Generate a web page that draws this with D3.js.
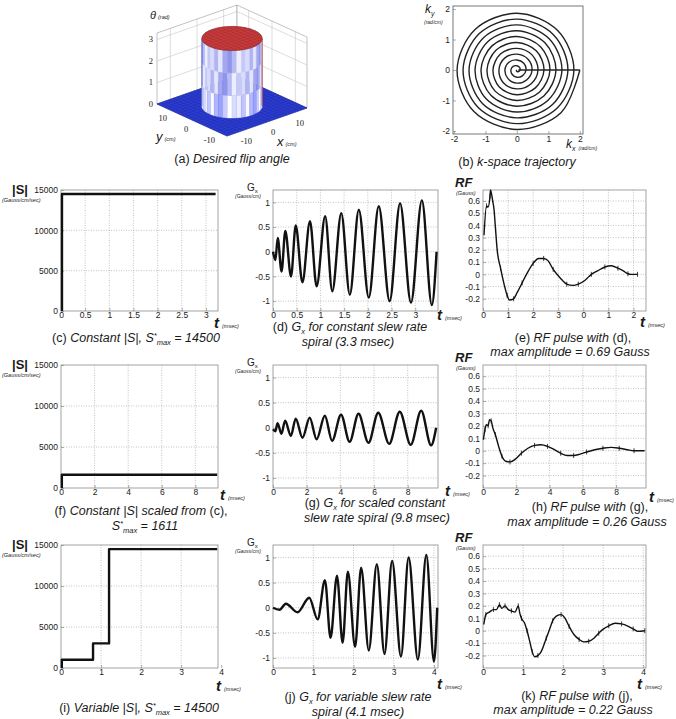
<!DOCTYPE html>
<html>
<head>
<meta charset="utf-8">
<script src="https://cdn.jsdelivr.net/npm/d3@7/dist/d3.min.js"></script>
<style>
  body { margin: 0; background: #fff; }
  svg text { font-family: "Liberation Sans", Arial, sans-serif; fill: #1a1a1a; }
</style>
</head>
<body>
<svg id="fig" width="676" height="719"></svg>
<script>
// ---------- (a) desired flip angle ----------
const planeHalf = 15;          // cm
const flipRadius = 8.5;        // cm
const flipAngle = 3.14;        // rad
const zTicks3d = [0, 1, 2, 3];
const xyTicks3d = [-10, 0, 10];

// ---------- (b) k-space spiral: radius every 45 deg, starting at 180 deg ----------
const spiralRadii = [
  0.00, 0.02, 0.05, 0.07, 0.10, 0.12, 0.14, 0.17,
  0.19, 0.21, 0.24, 0.26, 0.29, 0.31, 0.33, 0.36,
  0.38, 0.40, 0.43, 0.45, 0.48, 0.50, 0.52, 0.55,
  0.57, 0.60, 0.62, 0.64, 0.67, 0.69, 0.71, 0.74,
  0.76, 0.79, 0.81, 0.83, 0.86, 0.88, 0.90, 0.93,
  0.95, 0.98, 1.00, 1.02, 1.05, 1.07, 1.10, 1.12,
  1.14, 1.17, 1.19, 1.21, 1.24, 1.26, 1.29, 1.31,
  1.33, 1.36, 1.38, 1.40, 1.43, 1.45, 1.48, 1.50,
  1.52, 1.55, 1.57, 1.60, 1.62, 1.64, 1.67, 1.69,
  1.71, 1.74, 1.76, 1.79, 1.81, 1.83, 1.86, 1.88,
  1.90, 1.93, 1.95, 1.98, 2.00
];
const kReturn = [[2.0, 0], [0.05, 0]];
const kTicks = [-2, -1, 0, 1, 2];

// ---------- slew rate |S| (Gauss/cm/sec) ----------
const slewC = [[0.02, 0], [0.02, 14500], [3.2, 14500]];
const slewF = [[0.05, 0], [0.05, 1611], [9.3, 1611]];
const slewI = [[0.02, 0], [0.02, 1000], [0.8, 1000], [0.8, 3000], [1.2, 3000], [1.2, 14500], [3.9, 14500]];
const sTicks = [0, 5000, 10000, 15000];

// ---------- Gx (Gauss/cm), extrema ----------
const gxD = [[0, 0], [0.05, -0.17], [0.10, 0.28], [0.18, -0.4], [0.26, 0.42], [0.38, -0.5], [0.48, 0.53],
  [0.62, -0.62], [0.78, 0.62], [0.92, -0.7], [1.10, 0.72], [1.25, -0.8], [1.44, 0.78], [1.62, -0.87],
  [1.81, 0.85], [2.02, -0.93], [2.23, 0.92], [2.46, -1.0], [2.68, 0.98], [2.91, -1.03], [3.14, 1.04],
  [3.35, -1.08], [3.45, 0]];
const gxG = [[0, -0.03], [0.14, -0.07], [0.27, 0.09], [0.5, -0.12], [0.72, 0.14], [1.06, -0.16], [1.35, 0.18],
  [1.75, -0.2], [2.18, 0.2], [2.59, -0.23], [3.08, 0.24], [3.51, -0.26], [4.04, 0.26], [4.55, -0.28],
  [5.08, 0.28], [5.67, -0.3], [6.25, 0.3], [6.9, -0.32], [7.53, 0.32], [8.18, -0.34], [8.8, 0.34],
  [9.39, -0.35], [9.69, 0]];
const gxJ = [[0, 0], [0.16, -0.04], [0.32, 0.08], [0.61, -0.09], [0.9, 0.2], [1.11, -0.23], [1.29, 0.55],
  [1.43, -0.6], [1.59, 0.64], [1.73, -0.7], [1.86, 0.72], [2.04, -0.78], [2.19, 0.8], [2.38, -0.85],
  [2.58, 0.87], [2.77, -0.92], [2.96, 0.93], [3.18, -0.97], [3.37, 1.0], [3.6, -1.03], [3.81, 1.05],
  [4.0, -1.07], [4.08, 0]];
const gxTicks = [-1, -0.5, 0, 0.5, 1];

// ---------- RF pulses (Gauss) ----------
const rfE = [[0.02, 0.32], [0.07, 0.56], [0.10, 0.55], [0.14, 0.64], [0.15, 0.69], [0.19, 0.61], [0.22, 0.53],
  [0.25, 0.37], [0.28, 0.21], [0.35, 0.05], [0.42, -0.08], [0.48, -0.17], [0.53, -0.21], [0.61, -0.2],
  [0.68, -0.15], [0.78, -0.07], [0.88, 0.01], [1.0, 0.09], [1.11, 0.13], [1.21, 0.13], [1.3, 0.11],
  [1.4, 0.04], [1.54, -0.03], [1.67, -0.08], [1.79, -0.09], [1.9, -0.08], [2.03, -0.05], [2.16, 0],
  [2.29, 0.03], [2.43, 0.06], [2.56, 0.07], [2.69, 0.05], [2.79, 0.03], [2.89, 0.005], [2.95, 0], [3.08, 0]];
const rfH = [[0.02, 0.09], [0.12, 0.17], [0.2, 0.21], [0.31, 0.2], [0.39, 0.25], [0.49, 0.24], [0.6, 0.18],
  [0.74, 0.13], [0.94, 0.035], [1.14, -0.045], [1.37, -0.085], [1.62, -0.09], [1.92, -0.07], [2.31, -0.02],
  [2.7, 0.02], [3.1, 0.043], [3.49, 0.048], [3.88, 0.035], [4.27, 0.01], [4.67, -0.02], [5.06, -0.038],
  [5.45, -0.038], [5.84, -0.027], [6.23, -0.01], [6.72, 0.008], [7.21, 0.02], [7.7, 0.027], [8.19, 0.02],
  [8.68, 0.008], [9.08, 0], [9.72, 0]];
const rfK = [[0.02, 0.05], [0.07, 0.13], [0.16, 0.15], [0.26, 0.17], [0.34, 0.17], [0.41, 0.21], [0.47, 0.18],
  [0.55, 0.2], [0.63, 0.17], [0.71, 0.16], [0.8, 0.15], [0.88, 0.2], [0.92, 0.14], [0.96, 0.1], [1.04, 0.06],
  [1.1, 0], [1.17, -0.09], [1.23, -0.17], [1.29, -0.21], [1.37, -0.2], [1.45, -0.17], [1.58, -0.06],
  [1.66, 0.01], [1.74, 0.08], [1.84, 0.12], [1.95, 0.13], [2.05, 0.1], [2.15, 0.035], [2.27, -0.03],
  [2.4, -0.07], [2.52, -0.09], [2.64, -0.085], [2.77, -0.06], [2.89, -0.02], [3.01, 0.015], [3.14, 0.04],
  [3.3, 0.06], [3.46, 0.055], [3.63, 0.035], [3.75, 0.015], [3.87, -0.005], [4.04, 0]];
const rfTicks = [-0.2, -0.1, 0, 0.1, 0.2, 0.3, 0.4, 0.5, 0.6];

// time ticks
const tTicks33 = [0, 0.5, 1, 1.5, 2, 2.5, 3];
const tTicks98 = [0, 2, 4, 6, 8];
const tTicks41 = [0, 1, 2, 3, 4];
const tLabelsE = ["0", "1", "2", "3", "0", "1", "2"];

const svg = d3.select("#fig");
svg.append("rect").attr("width", 676).attr("height", 719).attr("fill", "#fff");

// ---------- helpers ----------
function caption(cx, cy, parts) {
  const t = svg.append("text").attr("x", cx).attr("y", cy)
    .attr("text-anchor", "middle").style("font-size", "12.5px");
  let shift = 0;
  parts.forEach(([str, kind]) => {
    const target = kind === "sub" ? 2.5 : kind === "sup" ? -4 : 0;
    t.append("tspan").attr("dy", target - shift).text(str)
      .style("font-style", kind === "up" ? "normal" : "italic")
      .style("font-size", kind === "sub" || kind === "sup" ? "7.5px" : null);
    shift = target;
  });
}

function tLabel(x, y) {
  const t = svg.append("text").attr("x", x).attr("y", y);
  t.append("tspan").text("t").style("font-size", "15px").style("font-weight", "bold").style("font-style", "italic");
  t.append("tspan").attr("dx", 3).text("(msec)").style("font-size", "5.5px").style("font-style", "italic");
}

function yLabel(kind, left, top) {
  if (kind === "S") {
    svg.append("text").attr("x", 12).attr("y", top + 4).text("|S|")
      .style("font-size", "13px").style("font-weight", "bold");
    svg.append("text").attr("x", 2).attr("y", top + 12).text("(Gauss/cm/sec)")
      .style("font-size", "5.5px").style("font-style", "italic");
  } else if (kind === "G") {
    const t = svg.append("text").attr("x", left - 26).attr("y", top + 1).style("font-size", "10px");
    t.append("tspan").text("G");
    t.append("tspan").attr("dy", 2).style("font-size", "6px").text("x");
    svg.append("text").attr("x", left - 38).attr("y", top + 8).text("(Gauss/cm)")
      .style("font-size", "5px").style("font-style", "italic");
  } else {
    svg.append("text").attr("x", 455).attr("y", top - 3).text("RF")
      .style("font-size", "13px").style("font-weight", "bold").style("font-style", "italic");
    svg.append("text").attr("x", 456).attr("y", top + 5).text("(Gauss)")
      .style("font-size", "5.5px").style("font-style", "italic");
  }
}

function styleAxis(ax) {
  ax.select(".domain").remove();
  ax.attr("font-family", "'Liberation Serif', 'Times New Roman', serif").attr("font-size", 8.5);
  ax.selectAll(".tick line").attr("stroke", "#777").attr("stroke-width", 0.6);
  ax.selectAll(".tick text").attr("fill", "#333");
}

function drawPanel(p) {
  const x = d3.scaleLinear().domain(p.xDomain).range([p.left, p.right]);
  const y = d3.scaleLinear().domain(p.yDomain).range([p.bottom, p.top]);
  const g = svg.append("g");

  // dotted grid
  g.selectAll(null).data(p.xTicks.filter(d => x(d) > p.left + 1 && x(d) < p.right - 1))
    .enter().append("line")
    .attr("x1", d => x(d)).attr("x2", d => x(d)).attr("y1", p.top).attr("y2", p.bottom)
    .attr("stroke", "#9a9a9a").attr("stroke-width", 0.6).attr("stroke-dasharray", "1,1.5");
  g.selectAll(null).data(p.yTicks.filter(d => y(d) < p.bottom - 1 && y(d) > p.top + 1))
    .enter().append("line")
    .attr("x1", p.left).attr("x2", p.right).attr("y1", d => y(d)).attr("y2", d => y(d))
    .attr("stroke", "#9a9a9a").attr("stroke-width", 0.6).attr("stroke-dasharray", "1,1.5");

  const ax = g.append("g").attr("transform", `translate(0,${p.bottom})`)
    .call(d3.axisBottom(x).tickValues(p.xTicks)
      .tickFormat((d, i) => p.xLabels ? p.xLabels[i] : String(d))
      .tickSizeInner(-3).tickSizeOuter(0).tickPadding(1));
  styleAxis(ax);
  const ay = g.append("g").attr("transform", `translate(${p.left},0)`)
    .call(d3.axisLeft(y).tickValues(p.yTicks).tickFormat(d => String(d))
      .tickSizeInner(-3).tickSizeOuter(0).tickPadding(3));
  styleAxis(ay);

  g.append("rect").attr("x", p.left).attr("y", p.top)
    .attr("width", p.right - p.left).attr("height", p.bottom - p.top)
    .attr("fill", "none").attr("stroke", "#8c8c8c").attr("stroke-width", 0.8);

  const line = d3.line().x(d => x(d[0])).y(d => y(d[1])).curve(p.curve);
  g.append("path").datum(p.data).attr("d", line)
    .attr("fill", "none").attr("stroke", "#111").attr("stroke-width", p.width)
    .attr("stroke-linejoin", "round");

  if (p.kind === "RF") {
    g.selectAll(null).data(p.data.filter((d, i) => i % 2 === 1)).enter().append("line")
      .attr("x1", d => x(d[0])).attr("x2", d => x(d[0]))
      .attr("y1", d => y(d[1]) - 2.5).attr("y2", d => y(d[1]) + 2.5)
      .attr("stroke", "#111").attr("stroke-width", 0.8);
  }

  yLabel(p.kind, p.left, p.top);
  tLabel(p.tPos[0], p.tPos[1]);
  p.caption.forEach((c, i) => caption(p.capX[i], p.capY[i], c));
}

// ---------- 3x3 grid of 2D plots ----------
const col = [{ left: 61, right: 218 }, { left: 273, right: 438 }, { left: 483, right: 646 }];
const row = [{ top: 190, bottom: 311 }, { top: 365, bottom: 488 }, { top: 545, bottom: 668 }];
const sDom = [0, 15000], gDom = [-1.2, 1.25], rDom = [-0.3, 0.69];

const panels = [
  { c: 0, r: 0, kind: "S", data: slewC, xDomain: [0, 3.25], yDomain: sDom, xTicks: tTicks33, yTicks: sTicks,
    curve: d3.curveLinear, width: 2.4, tPos: [214, 328],
    caption: [[["(c) ", "up"], ["Constant |S|, S", "it"], ["*", "sup"], ["max", "sub"], [" = 14500", "it"]]],
    capX: [136], capY: [342] },
  { c: 1, r: 0, kind: "G", data: gxD, xDomain: [0, 3.48], yDomain: gDom, xTicks: tTicks33, yTicks: gxTicks,
    curve: d3.curveMonotoneX, width: 2.4, tPos: [437, 320],
    caption: [[["(d) ", "up"], ["G", "it"], ["x", "sub"], [" for constant slew rate", "it"]], [["spiral (3.3 msec)", "it"]]],
    capX: [350, 348], capY: [331, 346] },
  { c: 2, r: 0, kind: "RF", data: rfE, xDomain: [0, 3.25], yDomain: rDom, xTicks: tTicks33, yTicks: rfTicks,
    xLabels: tLabelsE, curve: d3.curveMonotoneX, width: 1.4, tPos: [640, 327],
    caption: [[["(e) ", "up"], ["RF pulse with ", "it"], ["(d),", "up"]], [["max amplitude = 0.69 Gauss", "it"]]],
    capX: [573, 570], capY: [342, 356] },
  { c: 0, r: 1, kind: "S", data: slewF, xDomain: [0, 9.35], yDomain: sDom, xTicks: tTicks98, yTicks: sTicks,
    curve: d3.curveLinear, width: 2.4, tPos: [220, 500],
    caption: [[["(f) ", "up"], ["Constant |S| scaled from ", "it"], ["(c),", "up"]], [["S", "it"], ["*", "sup"], ["max", "sub"], [" = 1611", "it"]]],
    capX: [141, 145], capY: [515, 530] },
  { c: 1, r: 1, kind: "G", data: gxG, xDomain: [0, 9.8], yDomain: gDom, xTicks: tTicks98, yTicks: gxTicks,
    curve: d3.curveMonotoneX, width: 2.4, tPos: [445, 496],
    caption: [[["(g) ", "up"], ["G", "it"], ["x", "sub"], [" for scaled constant", "it"]], [["slew rate spiral (9.8 msec)", "it"]]],
    capX: [375, 377], capY: [507, 522] },
  { c: 2, r: 1, kind: "RF", data: rfH, xDomain: [0, 9.8], yDomain: rDom, xTicks: tTicks98, yTicks: rfTicks,
    curve: d3.curveMonotoneX, width: 1.4, tPos: [649, 502],
    caption: [[["(h) ", "up"], ["RF pulse with ", "it"], ["(g),", "up"]], [["max amplitude = 0.26 Gauss", "it"]]],
    capX: [590, 587], capY: [511, 526] },
  { c: 0, r: 2, kind: "S", data: slewI, xDomain: [0, 3.92], yDomain: sDom, xTicks: tTicks41, yTicks: sTicks,
    curve: d3.curveLinear, width: 2.4, tPos: [216, 691],
    caption: [[["(i) ", "up"], ["Variable |S|, S", "it"], ["*", "sup"], ["max", "sub"], [" = 14500", "it"]]],
    capX: [139], capY: [712] },
  { c: 1, r: 2, kind: "G", data: gxJ, xDomain: [0, 4.1], yDomain: gDom, xTicks: tTicks41, yTicks: gxTicks,
    curve: d3.curveMonotoneX, width: 2.4, tPos: [437, 689],
    caption: [[["(j) ", "up"], ["G", "it"], ["x", "sub"], [" for variable slew rate", "it"]], [["spiral (4.1 msec)", "it"]]],
    capX: [358, 358], capY: [701, 716] },
  { c: 2, r: 2, kind: "RF", data: rfK, xDomain: [0, 4.07], yDomain: rDom, xTicks: tTicks41, yTicks: rfTicks,
    curve: d3.curveMonotoneX, width: 1.4, tPos: [637, 689],
    caption: [[["(k) ", "up"], ["RF pulse with ", "it"], ["(j),", "up"]], [["max amplitude = 0.22 Gauss", "it"]]],
    capX: [577, 573], capY: [700, 714] }
];
panels.forEach(p => drawPanel(Object.assign(p, col[p.c], row[p.r])));

// ---------- (b) k-space trajectory ----------
(function () {
  const x = d3.scaleLinear().domain([-2.03, 2.1]).range([453, 583]);
  const y = d3.scaleLinear().domain([-2.1, 2.1]).range([134, 6]);
  const g = svg.append("g");
  const ax = g.append("g").attr("transform", "translate(0,134)")
    .call(d3.axisBottom(x).tickValues(kTicks).tickFormat(d => String(d)).tickSizeInner(-3).tickSizeOuter(0).tickPadding(2));
  styleAxis(ax);
  const ay = g.append("g").attr("transform", "translate(453,0)")
    .call(d3.axisLeft(y).tickValues(kTicks).tickFormat(d => String(d)).tickSizeInner(-3).tickSizeOuter(0).tickPadding(3));
  styleAxis(ay);
  g.append("rect").attr("x", 453).attr("y", 6).attr("width", 130).attr("height", 128)
    .attr("fill", "none").attr("stroke", "#555").attr("stroke-width", 0.8);

  const pts = spiralRadii.map((r, i) => {
    const a = Math.PI + i * Math.PI / 4;
    return [r * Math.cos(a), r * Math.sin(a)];
  });
  const line = d3.line().x(d => x(d[0])).y(d => y(d[1]));
  g.append("path").datum(pts).attr("d", line.curve(d3.curveCatmullRom.alpha(0.5)))
    .attr("fill", "none").attr("stroke", "#222").attr("stroke-width", 1.4);
  g.append("path").datum(kReturn).attr("d", line.curve(d3.curveLinear))
    .attr("fill", "none").attr("stroke", "#222").attr("stroke-width", 1.4);

  const ky = svg.append("text").attr("x", 425).attr("y", 13).style("font-size", "12px").style("font-style", "italic");
  ky.append("tspan").text("k");
  ky.append("tspan").attr("dy", 3).style("font-size", "7px").text("y");
  svg.append("text").attr("x", 424).attr("y", 24).text("(rad/cm)").style("font-size", "5px").style("font-style", "italic");
  const kxl = svg.append("text").attr("x", 566).attr("y", 148).style("font-size", "12px").style("font-style", "italic");
  kxl.append("tspan").text("k");
  kxl.append("tspan").attr("dy", 3).style("font-size", "7px").text("x");
  kxl.append("tspan").attr("dx", 3).attr("dy", -1).style("font-size", "5px").text("(rad/cm)");
  caption(517, 166, [["(b) ", "up"], ["k-space trajectory", "it"]]);
})();

// ---------- (a) 3-D surface of the desired flip angle ----------
(function () {
  const zTop = 3.3;
  const P = (xv, yv, zv) => {
    const u = xv + planeHalf, v = yv + planeHalf;
    return [227 + u * 2.667 - v * 2.333, 136 - u * 0.933 - v * 1.067 - zv * 21.5];
  };
  const g = svg.append("g");
  const seg = (a, b, stroke, w) => g.append("line")
    .attr("x1", a[0]).attr("y1", a[1]).attr("x2", b[0]).attr("y2", b[1])
    .attr("stroke", stroke).attr("stroke-width", w);
  const poly = (pts) => pts.map(p => p.join(",")).join(" ");
  const H = planeHalf;

  // back walls with grid
  g.append("polygon").attr("points", poly([P(-H, H, 0), P(H, H, 0), P(H, H, zTop), P(-H, H, zTop)]))
    .attr("fill", "#fff").attr("stroke", "#999").attr("stroke-width", 0.6);
  g.append("polygon").attr("points", poly([P(H, H, 0), P(H, -H, 0), P(H, -H, zTop), P(H, H, zTop)]))
    .attr("fill", "#fff").attr("stroke", "#999").attr("stroke-width", 0.6);
  xyTicks3d.forEach(t => {
    seg(P(t, H, 0), P(t, H, zTop), "#bbb", 0.5);
    seg(P(H, t, 0), P(H, t, zTop), "#bbb", 0.5);
  });
  zTicks3d.filter(t => t > 0).forEach(t => {
    seg(P(-H, H, t), P(H, H, t), "#bbb", 0.5);
    seg(P(H, -H, t), P(H, H, t), "#bbb", 0.5);
  });

  // floor surface
  g.append("polygon").attr("points", poly([P(-H, -H, 0), P(H, -H, 0), P(H, H, 0), P(-H, H, 0)]))
    .attr("fill", "#2b3cd2").attr("stroke", "#1c2a9a").attr("stroke-width", 0.6);
  d3.range(-H, H + 0.01, 1.5).forEach(t => {
    seg(P(t, -H, 0), P(t, H, 0), "#1c2a9a", 0.35);
    seg(P(-H, t, 0), P(H, t, 0), "#1c2a9a", 0.35);
  });

  // cylinder side (front half only)
  const a0 = 138.8 * Math.PI / 180, nSeg = 20, da = Math.PI / nSeg;
  const shades = ["#b7bbf4", "#d9dbfa", "#a3a8ef", "#eceefd", "#b0b4f2", "#8f95ea", "#c6c9f6", "#e3e5fb"];
  const bands = [0, 1.05, 2.1, flipAngle];
  const R = flipRadius;
  for (let i = 0; i < nSeg; i++) {
    const a1 = a0 + i * da, a2 = a1 + da;
    for (let b = 0; b < 3; b++) {
      const z0 = bands[b], z1 = bands[b + 1];
      const c = d3.color(shades[(i * 3 + b * 5) % shades.length]);
      g.append("polygon").attr("points", poly([
        P(R * Math.cos(a1), R * Math.sin(a1), z0), P(R * Math.cos(a2), R * Math.sin(a2), z0),
        P(R * Math.cos(a2), R * Math.sin(a2), z1), P(R * Math.cos(a1), R * Math.sin(a1), z1)]))
        .attr("fill", b === 0 ? c.brighter(0.25) : c).attr("stroke", c).attr("stroke-width", 0.4);
    }
  }
  seg(P(R * Math.cos(a0), R * Math.sin(a0), 0), P(R * Math.cos(a0), R * Math.sin(a0), flipAngle), "#4b55c0", 0.7);
  const aE = a0 + Math.PI;
  seg(P(R * Math.cos(aE), R * Math.sin(aE), 0), P(R * Math.cos(aE), R * Math.sin(aE), flipAngle), "#a33", 0.9);

  // top disc
  const ring = d3.range(0, 360, 6).map(d => {
    const a = d * Math.PI / 180;
    return P(R * Math.cos(a), R * Math.sin(a), flipAngle);
  });
  g.append("polygon").attr("points", poly(ring)).attr("fill", "#c73b3d").attr("stroke", "#8e2326").attr("stroke-width", 0.7);
  d3.range(-7.5, 7.6, 1.5).forEach(t => {
    const h = Math.sqrt(R * R - t * t);
    seg(P(t, -h, flipAngle), P(t, h, flipAngle), "#9e2a2c", 0.4);
    seg(P(-h, t, flipAngle), P(h, t, flipAngle), "#9e2a2c", 0.4);
  });

  // tick labels
  const lab = (xy, txt, anchor) => svg.append("text").attr("x", xy[0]).attr("y", xy[1]).text(txt)
    .attr("text-anchor", anchor).style("font-family", "'Liberation Serif', serif").style("font-size", "8.5px");
  zTicks3d.forEach(t => { const p = P(-H, H, t); lab([p[0] - 4, p[1] + 3], String(t), "end"); });
  xyTicks3d.forEach(t => { const p = P(t, -H, 0); lab([p[0] + 6, p[1] + 13], String(t), "middle"); });
  xyTicks3d.forEach(t => { const p = P(-H, t, 0); lab([p[0] - 6, p[1] + 12], String(t), "middle"); });

  const yl = svg.append("text").attr("x", 156).attr("y", 141).style("font-size", "13px").style("font-style", "italic");
  yl.append("tspan").text("y");
  yl.append("tspan").attr("dx", 2).style("font-size", "5.5px").text("(cm)");
  const xl = svg.append("text").attr("x", 277).attr("y", 146).style("font-size", "13px").style("font-style", "italic");
  xl.append("tspan").text("x");
  xl.append("tspan").attr("dx", 2).style("font-size", "5.5px").text("(cm)");
  const th = svg.append("text").attr("x", 150).attr("y", 19).style("font-size", "11px").style("font-style", "italic");
  th.append("tspan").text("θ");
  th.append("tspan").attr("dx", 2).style("font-size", "5.5px").text("(rad)");

  caption(232, 163, [["(a) ", "up"], ["Desired flip angle", "it"]]);
})();
</script>
</body>
</html>
